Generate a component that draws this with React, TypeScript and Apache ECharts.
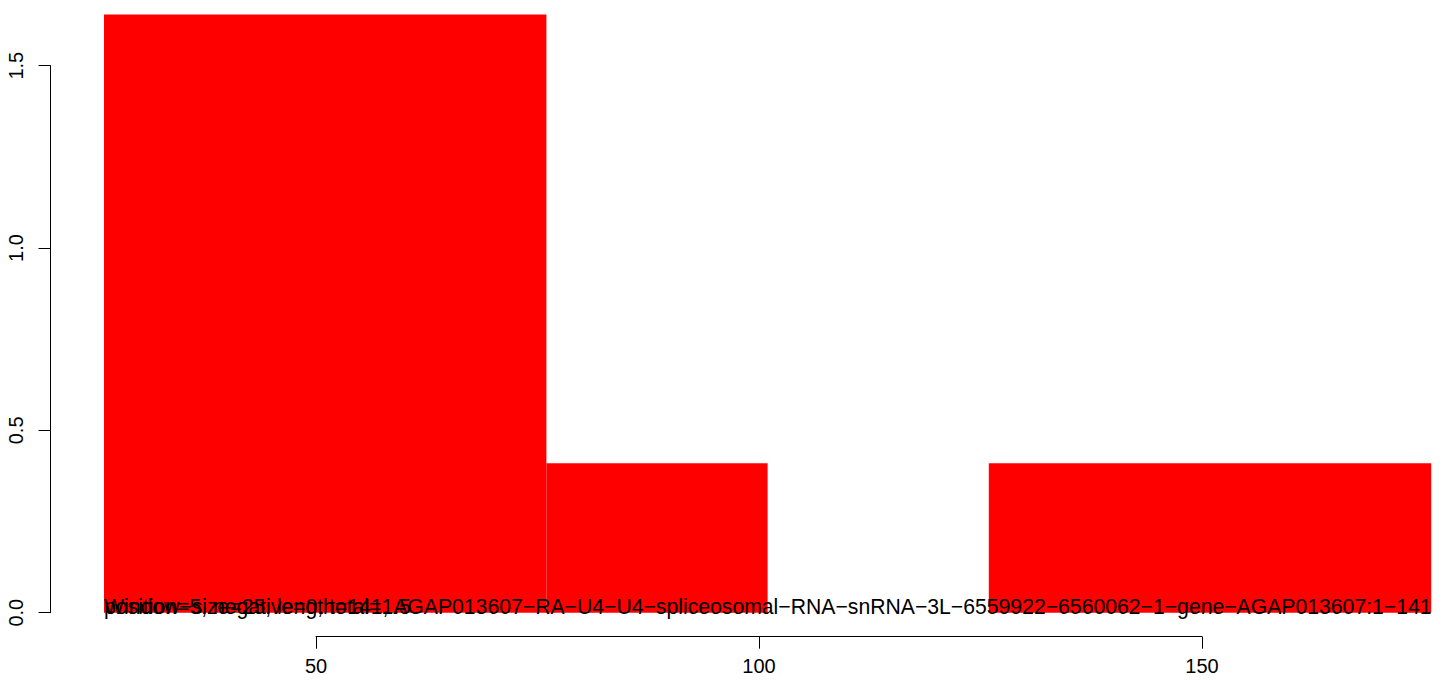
import React, { useEffect, useRef } from "react";
import * as echarts from "echarts";

const binStarts = [26, 76, 126];
const binEnds = [76, 101, 176];
const binValues = [1.64, 0.41, 0.41];
const xTicks = [50, 100, 150];
const yTicks = [0, 0.5, 1.0, 1.5];
const overlayTexts = [
  "position=5, negative=0, total=1.5",
  "Window\u2212size=25, length=141, AGAP013607\u2212RA\u2212U4\u2212U4\u2212spliceosomal\u2212RNA\u2212snRNA\u22123L\u22126559922\u22126560062\u22121\u2212gene\u2212AGAP013607:1\u2212141",
];
const textAnchorX = 26;
const textAnchorY = 0;

const FONT = '"Liberation Sans", Arial, Helvetica, sans-serif';

export default function App() {
  const ref = useRef<HTMLDivElement>(null);
  useEffect(() => {
    document.body.style.margin = "0";
    const chart = echarts.init(ref.current!, null, { renderer: "svg" });
    const bars = binStarts.map((s, i) => [s, binEnds[i], binValues[i]]);
    chart.setOption({
      animation: false,
      backgroundColor: "#ffffff",
      grid: [
        { left: 104, right: 12.8, top: 14.6, bottom: 74.3 },
        { left: 316, right: 242, top: 600, bottom: 50.3 },
        { left: 50.5, width: 10, top: 65.7, bottom: 74.3 },
      ],
      xAxis: [
        { gridIndex: 0, type: "value", min: 26, max: 176, show: false },
        {
          gridIndex: 1,
          type: "value",
          min: xTicks[0],
          max: xTicks[xTicks.length - 1],
          interval: 50,
          position: "bottom",
          axisLine: { show: true, lineStyle: { color: "#000", width: 1 } },
          axisTick: { show: true, length: 12, lineStyle: { color: "#000", width: 1 } },
          axisLabel: { show: true, margin: 19, color: "#000", fontSize: 20, fontFamily: FONT },
          splitLine: { show: false },
        },
        { gridIndex: 2, type: "value", show: false },
      ],
      yAxis: [
        { gridIndex: 0, type: "value", min: 0, max: 1.64, show: false },
        { gridIndex: 1, type: "value", show: false },
        {
          gridIndex: 2,
          type: "value",
          min: yTicks[0],
          max: yTicks[yTicks.length - 1],
          interval: 0.5,
          position: "left",
          axisLine: { show: true, lineStyle: { color: "#000", width: 1 } },
          axisTick: { show: true, length: 12, lineStyle: { color: "#000", width: 1 } },
          axisLabel: {
            show: true,
            rotate: 90,
            margin: 25,
            color: "#000",
            fontSize: 20,
            fontFamily: FONT,
            formatter: (v: number) => v.toFixed(1),
          },
          splitLine: { show: false },
        },
      ],
      series: [
        {
          type: "custom",
          xAxisIndex: 0,
          yAxisIndex: 0,
          data: bars,
          clip: false,
          renderItem: (params: any, api: any) => {
            const p0 = api.coord([api.value(0), api.value(2)]);
            const p1 = api.coord([api.value(1), 0]);
            return {
              type: "rect",
              shape: { x: p0[0], y: p0[1], width: p1[0] - p0[0], height: p1[1] - p0[1] },
              style: { fill: "#ff0000" },
            };
          },
        },
        {
          type: "custom",
          xAxisIndex: 0,
          yAxisIndex: 0,
          data: overlayTexts.map((t) => [textAnchorX, textAnchorY, t]),
          clip: false,
          z: 5,
          renderItem: (params: any, api: any) => {
            const p = api.coord([api.value(0), api.value(1)]);
            return {
              type: "text",
              x: p[0],
              y: p[1] + 4,
              style: {
                text: overlayTexts[params.dataIndex],
                fill: "#000",
                font: `21.2px ${FONT}`,
                align: "left",
                verticalAlign: "bottom",
              },
            };
          },
        },
      ],
    });
    return () => chart.dispose();
  }, []);
  return (
    <div
      ref={ref}
      style={{ position: "absolute", left: 0, top: 0, width: 1444, height: 687 }}
    />
  );
}
